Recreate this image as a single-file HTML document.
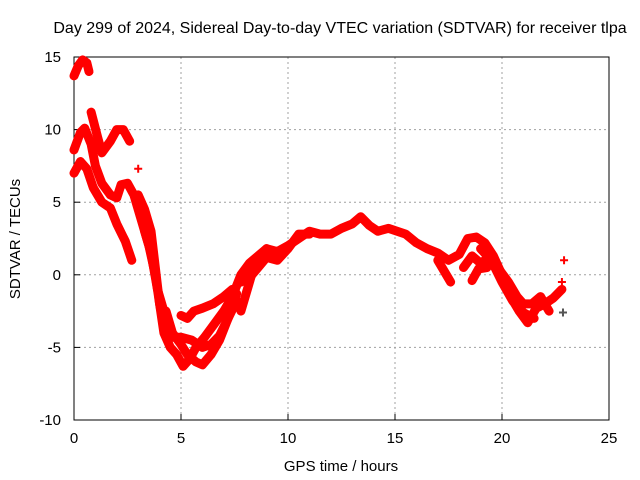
<!DOCTYPE html>
<html><head><meta charset="utf-8"><style>
body{margin:0;background:#fff;}
svg{display:block;font-family:"Liberation Sans",sans-serif;}
</style></head><body>
<svg id="chart" width="640" height="480" viewBox="0 0 640 480">
<rect width="640" height="480" fill="#fff"/>
<text x="340" y="33" font-size="16" text-anchor="middle" fill="#000">Day 299 of 2024, Sidereal Day-to-day VTEC variation (SDTVAR) for receiver tlpa</text>
<text x="341" y="471" font-size="15" text-anchor="middle">GPS time / hours</text>
<text transform="translate(20,239) rotate(-90)" font-size="15" text-anchor="middle">SDTVAR / TECUs</text>
<g id="grid"></g>
<g id="axes"></g>
<g id="marks"></g>
</svg>
<script>
const xTicks=[0,5,10,15,20,25];
const yTicks=[-10,-5,0,5,10,15];
const trackA=[[0,7.0],[0.3,7.8],[0.6,7.3],[0.9,6.0],[1.3,5.0],[1.7,4.6],[2.0,3.5],[2.4,2.3],[2.7,1.0]];
const trackB=[[0,8.6],[0.3,9.8],[0.5,10.1],[0.8,9.0],[1.0,7.5],[1.3,6.3],[1.7,5.5],[2.0,5.3],[2.2,6.2],[2.5,6.3],[2.8,5.5],[3.1,4.0],[3.5,2.0],[3.8,0],[4.0,-2.0],[4.2,-3.5],[4.5,-4.3],[5.0,-4.3],[5.5,-4.5],[6.0,-5.0],[6.4,-4.8],[6.8,-4.2],[7.2,-3.0],[7.6,-1.3]];
const trackC=[[0.8,11.2],[1.1,9.5],[1.3,8.4],[1.7,9.2],[2.0,10.0],[2.3,10.0],[2.6,9.2]];
const trackTop=[[0,13.7],[0.2,14.4],[0.4,14.8],[0.6,14.6],[0.7,14.0]];
const trackD=[[3.0,5.5],[3.3,4.5],[3.6,3.0],[3.8,0.5],[4.0,-2.0],[4.2,-4.0],[4.5,-5.0],[4.8,-5.5],[5.1,-6.3],[5.4,-5.8],[5.7,-5.0],[6.1,-4.3],[6.5,-3.5],[7.0,-2.5],[7.4,-1.5],[7.8,0],[8.2,0.8],[8.6,1.3],[9.0,1.8],[9.5,1.6],[10.0,2.0],[10.5,2.5],[11.0,3.0],[11.5,2.8],[12.0,2.8],[12.5,3.2],[13.0,3.5],[13.4,4.0],[13.8,3.4],[14.2,3.0],[14.7,3.2],[15.1,3.0],[15.5,2.8],[16.0,2.2],[16.5,1.8],[17.0,1.5],[17.5,1.0],[18.0,1.4],[18.4,2.5],[18.8,2.6],[19.2,2.2],[19.6,1.3],[20.0,0],[20.4,-1.5],[20.8,-2.5],[21.2,-3.3],[21.6,-2.3],[22.0,-2.0],[22.4,-1.6],[22.8,-1.0]];
const trackD2=[[3.3,3.0],[3.6,1.5],[3.9,-1.0],[4.2,-2.5],[19.0,1.8],[19.5,1.0],[20.0,-0.5],[20.5,-1.8],[21.0,-2.6],[21.5,-3.0]];
const trackE=[[4.3,-2.5],[4.6,-4.0],[5.0,-4.8],[5.3,-5.5],[5.7,-6.0],[6.0,-6.2],[6.4,-5.5],[6.8,-4.5],[7.2,-3.0],[7.6,-1.8]];
const trackF=[[5.0,-2.8],[5.3,-3.0],[5.6,-2.5],[6.0,-2.3],[6.5,-2.0],[7.0,-1.5],[7.4,-1.0]];
const trackG=[[7.8,-0.5],[8.2,-0.2],[8.6,0.5],[9.0,1.2],[9.5,1.0],[10.0,1.8],[10.5,2.8],[11.0,2.8]];
const trackH=[[7.8,-2.5],[8.1,-1.0],[8.5,1.0],[9.0,1.8]];
const trackI=[[17.0,1.0],[17.4,0],[17.6,-0.5]];
const trackJ=[[18.2,0.5],[18.6,1.3],[19.0,0.8],[19.4,1.2],[19.8,0.5],[20.3,-0.5],[20.7,-1.5],[21.0,-2.0],[21.4,-2.0],[21.8,-1.5],[22.2,-2.5]];
const trackK=[[18.6,-0.4],[18.9,0.4],[19.3,0.5]];
const isolated=[[3.0,7.3],[22.9,1.0],[22.8,-0.5]];
const darkPoint=[[22.85,-2.6]];

const X0=74,X1=609,Y0=420,Y1=57,xMin=0,xMax=25,yMin=-10,yMax=15;
const sx=v=>X0+(v-xMin)/(xMax-xMin)*(X1-X0);
const sy=v=>Y0-(v-yMin)/(yMax-yMin)*(Y0-Y1);
const NS="http://www.w3.org/2000/svg";
function mk(tag,parent){const e=document.createElementNS(NS,tag);parent.appendChild(e);return e;}
const grid=document.getElementById('grid'),axes=document.getElementById('axes'),marks=document.getElementById('marks');
xTicks.forEach(t=>{
  const x=sx(t);
  if(t>xMin&&t<xMax){const l=mk('line',grid);
    
    
    l.setAttribute('x1',x);l.setAttribute('x2',x);l.setAttribute('y1',Y1);l.setAttribute('y2',Y0);l.setAttribute('stroke','#a0a0a0');l.setAttribute('stroke-dasharray','2,3');}
  const tk=mk('line',axes);
  
  
  tk.setAttribute('x1',x);tk.setAttribute('x2',x);tk.setAttribute('y1',Y0);tk.setAttribute('y2',Y0-6);tk.setAttribute('stroke','#000');
  const tx=mk('text',axes);
  
  
  tx.setAttribute('x',x);tx.setAttribute('y',Y0+23);tx.setAttribute('text-anchor','middle');tx.setAttribute('font-size','15');tx.textContent=t;
});
yTicks.forEach(t=>{
  const y=sy(t);
  if(t>yMin&&t<yMax){const l=mk('line',grid);
    
    
    l.setAttribute('x1',X0);l.setAttribute('x2',X1);l.setAttribute('y1',y);l.setAttribute('y2',y);l.setAttribute('stroke','#a0a0a0');l.setAttribute('stroke-dasharray','2,3');}
  const tk=mk('line',axes);
  
  
  tk.setAttribute('x1',X0);tk.setAttribute('x2',X0+6);tk.setAttribute('y1',y);tk.setAttribute('y2',y);tk.setAttribute('stroke','#000');
  const tx=mk('text',axes);
  
  
  tx.setAttribute('x',X0-13);tx.setAttribute('y',y+5);tx.setAttribute('text-anchor','end');tx.setAttribute('font-size','15');tx.textContent=t;
});
const frame=mk('rect',axes);


frame.setAttribute('x',X0);frame.setAttribute('y',Y1);frame.setAttribute('width',X1-X0);frame.setAttribute('height',Y0-Y1);frame.setAttribute('fill','none');frame.setAttribute('stroke','#000');

[trackTop,trackA,trackB,trackC,trackD,trackE,trackF,trackG,trackH,trackI,trackJ,trackK].forEach(tr=>{
  const p=mk('polyline',marks);
  
  
  p.setAttribute('points',tr.map(d=>sx(d[0])+','+sy(d[1])).join(' '));
  p.setAttribute('fill','none');p.setAttribute('stroke','#ff0000');p.setAttribute('stroke-width','9');
  p.setAttribute('stroke-linejoin','round');p.setAttribute('stroke-linecap','round');
});
// thick overlapping band segments (two separate runs)
[trackD2.slice(0,4),trackD2.slice(4)].forEach(tr=>{
  const p=mk('polyline',marks);
  
  
  p.setAttribute('points',tr.map(d=>sx(d[0])+','+sy(d[1])).join(' '));
  p.setAttribute('fill','none');p.setAttribute('stroke','#ff0000');p.setAttribute('stroke-width','9');
  p.setAttribute('stroke-linejoin','round');p.setAttribute('stroke-linecap','round');
});
function plus(d,col,s,parent){
  const x=sx(d[0]),y=sy(d[1]);
  const p=mk('path',parent);
  
  
  p.setAttribute('d',`M${x-s},${y}H${x+s}M${x},${y-s}V${y+s}`);
  p.setAttribute('stroke',col);p.setAttribute('stroke-width','2');
}
isolated.forEach(d=>plus(d,'#ff0000',4,marks));
darkPoint.forEach(d=>plus(d,'#555',4,marks));
</script>
</body></html>
